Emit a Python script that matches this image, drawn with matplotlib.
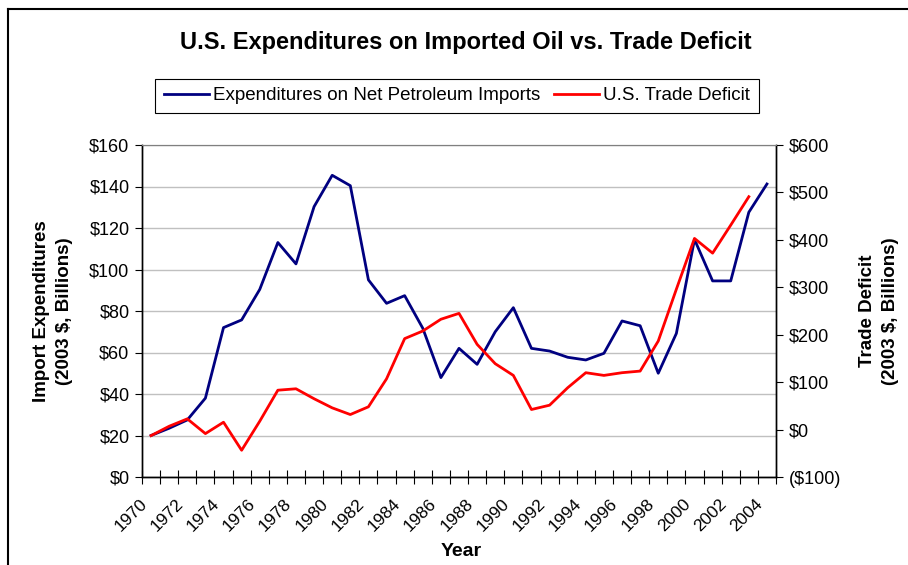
import numpy as np
import matplotlib

matplotlib.use("Agg")
import matplotlib.pyplot as plt
from matplotlib.lines import Line2D
from matplotlib.transforms import ScaledTranslation

plt.rcParams["font.family"] = ["Liberation Sans", "DejaVu Sans"]

years = list(range(1970, 2005))
oil_imports = [20, 23.5, 27.5, 38, 72, 75.7, 90.4, 113, 102.7, 130.3, 145.4, 140.4,
               95, 83.7, 87.4, 71.7, 47.9, 62, 54.3, 70, 81.6, 62, 60.7, 57.7,
               56.4, 59.6, 75.2, 72.9, 50, 69.2, 114.5, 94.5, 94.5, 127.6, 141.2]
trade_deficit = [-12.7, 7, 22.6, -8.5, 15.5, -43.6, 17.6, 83, 86, 65, 45.8, 31.7,
                 48, 107, 191.8, 207.8, 232.6, 245, 179.7, 138.9, 114.2, 42.3, 51.4,
                 88.2, 119.9, 114.2, 119.9, 123.3, 186.7, 296, 403, 372, 431, 491]
left_ticks = [0, 20, 40, 60, 80, 100, 120, 140, 160]
right_ticks = [-100, 0, 100, 200, 300, 400, 500, 600]


def money(v):
    return f"(${-v})" if v < 0 else f"${v}"


W, H = 908, 565
fig = plt.figure(figsize=(W / 100, H / 100), dpi=100)
ax = fig.add_axes([142 / W, 1 - 477 / H, (776 - 142) / W, (477 - 145) / H])
ax2 = ax.twinx()

x = np.arange(len(years))
ax.plot(x, oil_imports, color="#000080", lw=2, zorder=3)
ax2.plot(x[:len(trade_deficit)], trade_deficit, color="#ff0000", lw=2, zorder=3)

ax.set_xlim(-0.5, len(years) - 0.5)
ax.set_ylim(0, 160)
ax2.set_ylim(-100, 600)

ax.set_yticks(left_ticks)
ax.set_yticklabels([money(v) for v in left_ticks], fontsize=13)
ax2.set_yticks(right_ticks)
ax2.set_yticklabels([money(v) for v in right_ticks], fontsize=13)
ax.yaxis.grid(True, color="#c0c0c0", lw=1)
ax.set_axisbelow(True)

# tick marks between categories, labels on every second category
ax.set_xticks(np.arange(-0.5, len(years), 1))
ax.set_xticklabels([])
ax.tick_params(axis="x", which="major", direction="inout", length=10, width=0.8)
ax.set_xticks(x[::2], minor=True)
ax.set_xticklabels([str(y) for y in years[::2]], minor=True, rotation=45,
                   ha="right", va="top", rotation_mode="anchor", fontsize=12.5)
ax.tick_params(axis="x", which="minor", length=0, pad=14)
shift = ScaledTranslation(-12 / 100, 0, fig.dpi_scale_trans)
for lbl in ax.get_xticklabels(minor=True):
    lbl.set_transform(lbl.get_transform() + shift)

ax.tick_params(axis="y", direction="out", length=5, width=0.8, pad=4)
ax2.tick_params(axis="y", direction="out", length=5, width=0.8, pad=4)

for a in (ax, ax2):
    a.spines["top"].set_color("#808080")
    a.spines["left"].set_linewidth(1)
    a.spines["right"].set_linewidth(1)
    a.spines["bottom"].set_linewidth(1)

fig.text(53 / W, 1 - 311 / H, "Import Expenditures\n(2003 $, Billions)", rotation=90,
         ha="center", va="center", fontsize=13.5, fontweight="bold", linespacing=1.45)
fig.text(879 / W, 1 - 311 / H, "Trade Deficit\n(2003 $, Billions)", rotation=90,
         ha="center", va="center", fontsize=13.5, fontweight="bold", linespacing=1.45)
fig.text(461 / W, 1 - 551 / H, "Year", ha="center", va="center", fontsize=14,
         fontweight="bold")

fig.text(466 / W, 1 - 43 / H, "U.S. Expenditures on Imported Oil vs. Trade Deficit",
         ha="center", va="center", fontsize=17, fontweight="bold")

handles = [Line2D([], [], color="#000080", lw=2),
           Line2D([], [], color="#ff0000", lw=2)]
leg = fig.legend(handles, ["Expenditures on Net Petroleum Imports", "U.S. Trade Deficit"],
                 loc="center", bbox_to_anchor=(457 / W, 1 - 95.5 / H), ncol=2,
                 fontsize=13.5, frameon=True, fancybox=False, edgecolor="black",
                 handlelength=2.4, handletextpad=0.25, columnspacing=0.7,
                 borderpad=0.45, framealpha=1)
leg.get_frame().set_linewidth(0.8)

# chart border (top and left edges visible)
fig.add_artist(Line2D([8 / W, 1], [1 - 9 / H, 1 - 9 / H], color="black", lw=1.5,
                      transform=fig.transFigure))
fig.add_artist(Line2D([8 / W, 8 / W], [0, 1 - 9 / H], color="black", lw=1.5,
                      transform=fig.transFigure))

fig.savefig("out.png", dpi=100)
